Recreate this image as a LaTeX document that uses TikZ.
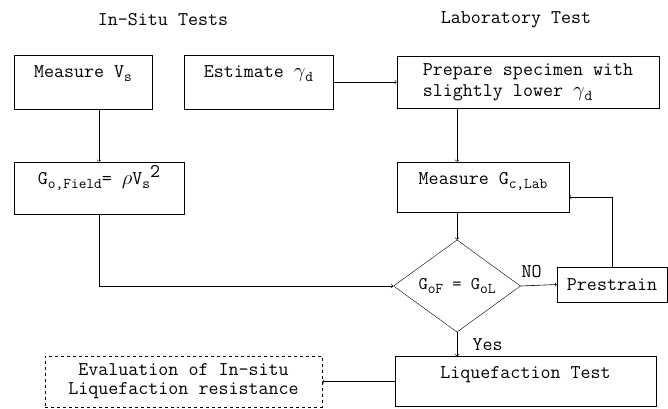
\documentclass[tikz,border=0pt]{standalone}
\usepackage{tikz}
\usetikzlibrary{shapes,arrows,positioning,fit,backgrounds}
\newcommand{\lowsub}[1]{\raisebox{-4bp}{\fontsize{15}{15}\selectfont #1}}

\begin{document}
\begin{tikzpicture}[
    x=1bp, y=-1bp,
    font=\ttfamily\fontsize{19.5}{21}\selectfont,
    box/.style={rectangle, draw, inner xsep=0pt, inner ysep=0pt, align=center},
    topbox/.style={box, text height=22bp, text depth=#1},
    arrow/.style={->, >=to, semithick}
]
\useasboundingbox (0,0) rectangle (668,408);

% Column titles
\node (insitu) at (163,20) {In-Situ Tests};
\node (labtest) at (516,20) {Laboratory Test};

% In-situ column
\node[topbox=32bp, minimum width=138bp] (vs) at (83,82) {Measure V\lowsub{s}};
\node[topbox=30bp, minimum width=170bp] (gfield) at (99,188) {G\lowsub{o,Field}= $\rho$V\lowsub{s}\raisebox{7bp}{2}};

% Density estimate
\node[topbox=32bp, minimum width=149bp] (est) at (258.5,82) {Estimate $\gamma$\lowsub{d}};

% Laboratory column
\node[box, minimum width=262bp, minimum height=52bp, align=left] (prep) at (528,82) {Prepare specimen with\\slightly lower $\gamma$\lowsub{d}};
\node[topbox=28bp, minimum width=172bp] (gclab) at (483,187) {Measure G\lowsub{c,Lab}};

% Decision
\node[diamond, draw, inner sep=0pt, minimum width=127bp, minimum height=69bp, font=\ttfamily\fontsize{18}{20}\selectfont] (check) at (457,286) {G\lowsub{oF} = G\lowsub{oL}};
\node[box, minimum width=110bp, minimum height=35bp] (prestrain) at (612,284.5) {Prestrain};

% Final tests
\node[topbox=28bp, minimum width=261bp] (liq) at (525.5,381.5) {Liquefaction Test};
\node[box, dashed, minimum width=277bp, minimum height=51bp] (eval) at (183.5,381.5) {Evaluation of In-situ\\[-2bp]Liquefaction resistance};

% Arrows
\draw[arrow] (vs.south -| gfield.north) -- (gfield.north);
\draw[arrow] (est) -- (prep);
\draw[arrow] (prep.south -| check.north) -- (gclab.north -| check.north);
\draw[arrow] (gclab.south -| check.north) -- (check.north);
\draw[arrow] (gfield.south) |- (check.west);
\draw[arrow] (check.east) -- node[above=4bp, pos=0.3] {NO} (prestrain.west);
\draw[arrow] (prestrain.north) |- ([yshift=-10bp]gclab.east);
\draw[arrow] (check.south) -- node[right=12bp] {Yes} (check.south |- liq.north);
\draw[arrow] (liq.west |- eval.east) -- (eval.east);

\end{tikzpicture}
\end{document}
